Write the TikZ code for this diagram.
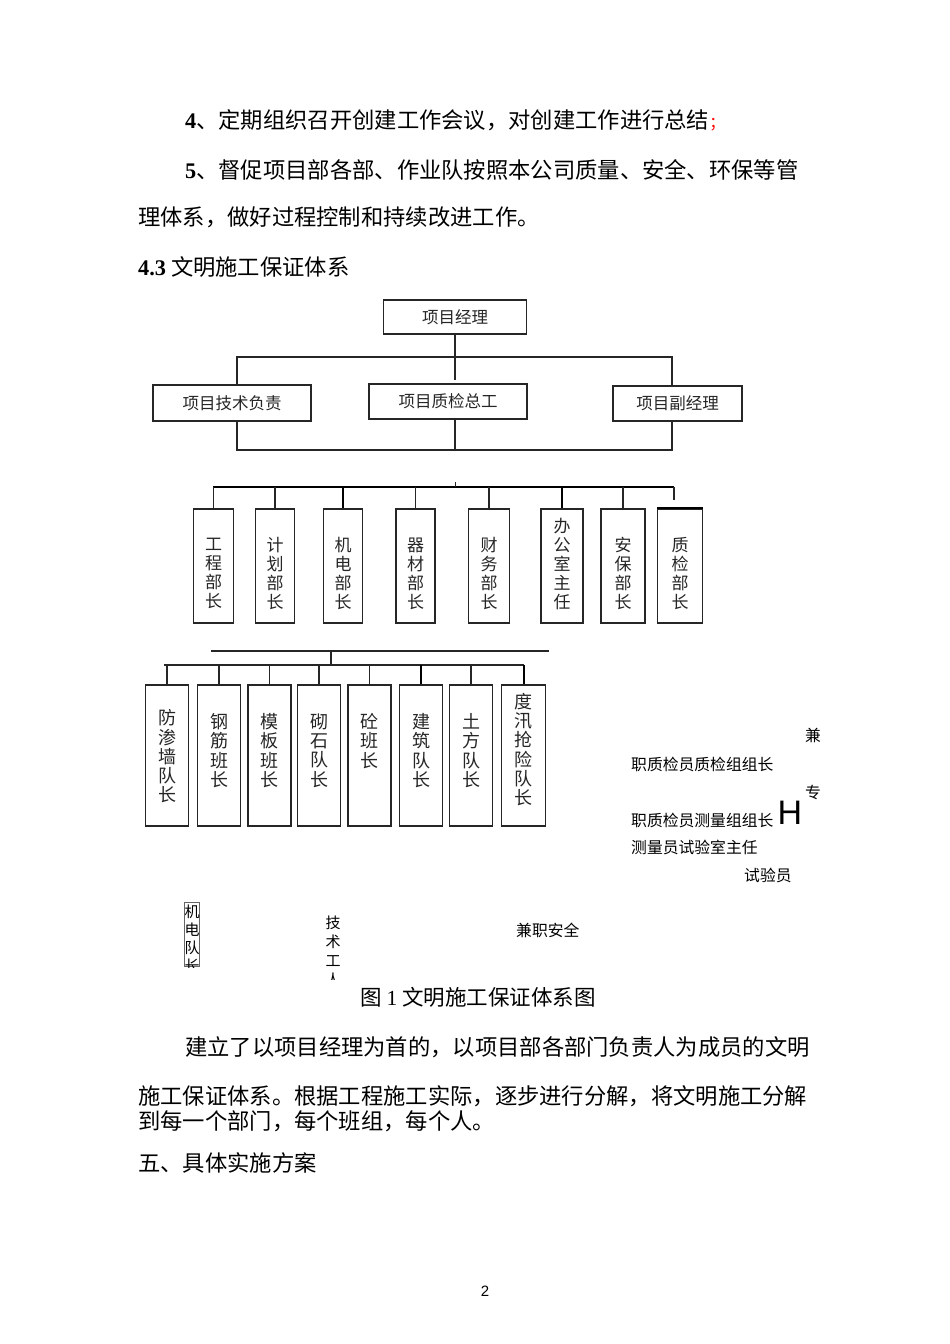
\documentclass[tikz,border=0pt]{standalone}
\usepackage{fontspec}
\setmainfont{Noto Sans CJK SC}
\newfontfamily\numfont{Liberation Serif}
\newfontfamily\latinsans{Liberation Sans}
\usetikzlibrary{positioning}

\tikzset{
  body/.style={anchor=west,inner sep=0pt,font=\fontsize{22.3}{24}\selectfont},
  box/.style={draw=black!85,line width=1.1pt,inner sep=0pt,font=\fontsize{16.5}{18}\selectfont,text=black!85},
  dbox/.style={draw=black!85,line width=1.1pt,inner sep=0pt,minimum height=114},
  tbox/.style={draw=black!85,line width=1.1pt,inner sep=0pt,minimum width=43,minimum height=141},
  dtext/.style={inner sep=0pt,align=center,font=\fontsize{17}{19}\selectfont,text=black!85},
  ttext/.style={inner sep=0pt,align=center,font=\fontsize{18}{19.3}\selectfont,text=black!85},
  note/.style={anchor=west,inner sep=0pt,font=\fontsize{15.8}{17}\selectfont},
  frag/.style={inner sep=0pt,align=center,font=\fontsize{15}{18}\selectfont},
  link/.style={draw=black!85,line width=1.1pt},
  thick link/.style={draw=black,line width=2pt},
  bus/.style={draw=black,line width=2.4pt}
}

\begin{document}
\begin{tikzpicture}[x=1pt,y=-1pt]
  \useasboundingbox[fill=white] (0,0) rectangle (950,1344);

  % text above the chart
  \node[body] (p1) at (185,120) {{\numfont\bfseries 4}、定期组织召开创建工作会议，对创建工作进行总结{\color{red}\fontsize{16}{16}\selectfont ；}};
  \node[body] (p2) at (185,170) {{\numfont\bfseries 5}、督促项目部各部、作业队按照本公司质量、安全、环保等管};
  \node[body] (p3) at (138,217) {理体系，做好过程控制和持续改进工作。};
  \node[body] (h43) at (138,267) {{\numfont\bfseries 4.3} 文明施工保证体系};

  % top levels
  \node[box,minimum width=143,minimum height=34] (pm) at (455,317) {项目经理};
  \node[box,minimum width=158,minimum height=36] (tech) at (232,403) {项目技术负责};
  \node[box,minimum width=158,minimum height=35] (zjzg) at (448,401.5) {项目质检总工};
  \node[box,minimum width=129,minimum height=35] (vice) at (677.5,403.5) {项目副经理};

  \coordinate (a0) at (455,380);
  \coordinate (a1) at (237,357);
  \coordinate (a2) at (672,357);
  \draw[link] (pm.south -| a0) -- (a0);
  \draw[link] (tech.north -| a1) -- (a1) -- (a2) -- (vice.north -| a2);
  \coordinate (b1) at (237,450);
  \coordinate (b2) at (672,450);
  \draw[link] (tech.south -| b1) -- (b1) -- (b2) -- (vice.south -| b2);
  \draw[link] (zjzg.south -| a0) -- (b1 -| a0);

  % department heads
  \coordinate (c1) at (213,487);
  \coordinate (c2) at (674,487);
  \coordinate (c3) at (674,500);
  \coordinate (ctick) at (455,482);
  \draw[bus] (c1) -- (c2);
  \draw[link] (c2) -- (c3);
  \draw[link,line width=0.8pt] (ctick) -- (ctick |- c1);

  \node[dbox,minimum width=40] (gc) at (213.5,566) {};
  \node[dtext] (gct) at (213.5,573.5) {工\\程\\部\\长};
  \node[dbox,minimum width=39] (jh) at (275,566) {};
  \node[dtext] (jht) at (275,573.5) {计\\划\\部\\长};
  \node[dbox,minimum width=39] (jd) at (343,566) {};
  \node[dtext] (jdt) at (343,573.5) {机\\电\\部\\长};
  \node[dbox,minimum width=39] (qc) at (415.5,566) {};
  \node[dtext] (qct) at (415.5,573.5) {器\\材\\部\\长};
  \node[dbox,minimum width=41] (cw) at (489,566) {};
  \node[dtext] (cwt) at (489,573.5) {财\\务\\部\\长};
  \node[dbox,minimum width=42] (bg) at (562,566) {};
  \node[dtext] (bgt) at (562,564) {办\\公\\室\\主\\任};
  \node[dbox,minimum width=44] (ab) at (623,566) {};
  \node[dtext] (abt) at (623,573.5) {安\\保\\部\\长};
  \node[dbox,minimum width=45] (zj) at (680,566) {};
  \node[dtext] (zjt) at (680,573.5) {质\\检\\部\\长};
  \draw[bus,line width=2pt] (zj.north west) -- (zj.north east);

  \draw[link] (gc.north |- c1) -- (gc.north);
  \draw[link] (jh.north |- c1) -- (jh.north);
  \draw[thick link] (jd.north |- c1) -- (jd.north);
  \draw[link] (qc.north |- c1) -- (qc.north);
  \draw[link] (cw.north |- c1) -- (cw.north);
  \draw[thick link] (bg.north |- c1) -- (bg.north);
  \draw[link] (ab.north |- c1) -- (ab.north);

  % team leaders
  \coordinate (d1) at (211,651);
  \coordinate (d2) at (549,651);
  \coordinate (e0) at (331,665);
  \coordinate (e1) at (164,665);
  \coordinate (e2) at (523.5,665);
  \draw[link] (d1) -- (d2);
  \draw[link] (e0 |- d1) -- (e0);
  \draw[link] (e1) -- (e2);

  \node[tbox] (fs) at (167,755.5) {};
  \node[ttext] (fst) at (167,756.5) {防\\渗\\墙\\队\\长};
  \node[tbox] (gj) at (219,755.5) {};
  \node[ttext] (gjt) at (219,750.5) {钢\\筋\\班\\长};
  \node[tbox] (mb) at (269.5,755.5) {};
  \node[ttext] (mbt) at (269.5,750.5) {模\\板\\班\\长};
  \node[tbox] (qs) at (319,755.5) {};
  \node[ttext] (qst) at (319,750.5) {砌\\石\\队\\长};
  \node[tbox] (ts) at (369.5,755.5) {};
  \node[ttext] (tst) at (369.5,741) {砼\\班\\长};
  \node[tbox] (jz) at (421,755.5) {};
  \node[ttext] (jzt) at (421,750.5) {建\\筑\\队\\长};
  \node[tbox] (tf) at (471,755.5) {};
  \node[ttext] (tft) at (471,750.5) {土\\方\\队\\长};
  \node[tbox,minimum width=44] (dx) at (523.5,755.5) {};
  \node[ttext] (dxt) at (523.5,749.5) {度\\汛\\抢\\险\\队\\长};

  \draw[link] (fs.north |- e1) -- (fs.north);
  \draw[link] (gj.north |- e1) -- (gj.north);
  \draw[link] (mb.north |- e1) -- (mb.north);
  \draw[link] (qs.north |- e1) -- (qs.north);
  \draw[link] (ts.north |- e1) -- (ts.north);
  \draw[thick link] (jz.north |- e1) -- (jz.north);
  \draw[link] (tf.north |- e1) -- (tf.north);
  \draw[thick link] (dx.north |- e1) -- (dx.north);

  % loose labels on the right
  \node[note,anchor=center] (jian) at (813,735) {兼};
  \node[note] (n1) at (631,764) {职质检员质检组组长};
  \node[note,anchor=center] (zhuan) at (813,792) {专};
  \node[note] (n2) at (631,820) {职质检员测量组组长};
  \node[inner sep=0pt,font=\latinsans\fontsize{34}{34}\selectfont] (hh) at (790,813) {H};
  \node[note] (n3) at (631,847) {测量员试验室主任};
  \node[note] (n4) at (744,875) {试验员};

  % cut off fragments
  \begin{scope}
    \clip (182,900) rectangle (201,967);
    \node[draw=black!60,line width=0.6pt,minimum width=15,minimum height=64,inner sep=0pt] (jdbox) at (191.5,934) {};
    \node[frag] (jddz) at (192,939) {机\\电\\队\\长};
  \end{scope}
  \begin{scope}
    \clip (320,910) rectangle (346,979);
    \node[frag,font=\fontsize{15}{19}\selectfont] (jsgr) at (333,951.5) {技\\术\\工\\人};
  \end{scope}
  \node[note] (jzaq) at (516,930) {兼职安全};

  \node[inner sep=0pt,font=\fontsize{21.5}{22}\selectfont] (cap) at (478,997) {图\ {\numfont 1}\ 文明施工保证体系图};

  % text below the chart
  \node[body] (p4) at (185,1047) {建立了以项目经理为首的，以项目部各部门负责人为成员的文明};
  \node[body] (p5) at (138,1096) {施工保证体系。根据工程施工实际，逐步进行分解，将文明施工分解};
  \node[body] (p6) at (138,1121) {到每一个部门，每个班组，每个人。};
  \node[body] (h5) at (138,1163) {五、具体实施方案};
  \node[inner sep=0pt,font=\latinsans\fontsize{15}{16}\selectfont] (pg) at (485,1291) {2};
\end{tikzpicture}
\end{document}
